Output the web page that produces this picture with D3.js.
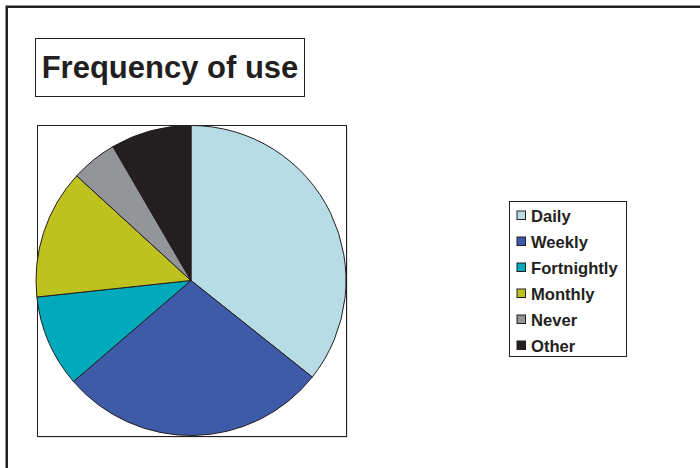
<!DOCTYPE html>
<html>
<head>
<meta charset="utf-8">
<script src="https://cdn.jsdelivr.net/npm/d3@7"></script>
<style>
html,body{margin:0;padding:0;background:#fff;}
svg{display:block;}
</style>
</head>
<body>
<svg id="chart" width="700" height="468"></svg>
<script>
const categories = ["Daily", "Weekly", "Fortnightly", "Monthly", "Never", "Other"];
const values = [35.7, 28.0, 9.6, 13.5, 4.8, 8.4];
const colors = ["#b7dce6", "#3e5ba9", "#00a9bb", "#bfc21e", "#939598", "#231f20"];
const titleText = "Frequency of use";

const svg = d3.select("#chart");
const ink = "#231f20";
const font = "'Liberation Sans', Arial, Helvetica, sans-serif";

// outer frame (only top and left visible)
svg.append("rect").attr("x", 6.75).attr("y", 6.75).attr("width", 760).attr("height", 560)
  .attr("fill", "none").attr("stroke", ink).attr("stroke-width", 2.5);

// title box
svg.append("rect").attr("x", 35.5).attr("y", 38.5).attr("width", 269).attr("height", 58)
  .attr("fill", "#fff").attr("stroke", ink).attr("stroke-width", 1);
svg.append("text").attr("x", 170).attr("y", 78).attr("text-anchor", "middle")
  .attr("font-family", font).attr("font-weight", "bold").attr("font-size", 31)
  .attr("fill", ink).text(titleText);

// plot area box with slight shadow
svg.append("rect").attr("x", 38.5).attr("y", 126.5).attr("width", 309).attr("height", 311)
  .attr("fill", "#c8c8c8");
svg.append("rect").attr("x", 37.5).attr("y", 125.5).attr("width", 309).attr("height", 311)
  .attr("fill", "#fff").attr("stroke", ink).attr("stroke-width", 1);

// pie
const cx = 191, cy = 280.5, r = 155;
const pie = d3.pie().sort(null).value(d => d.v);
const arc = d3.arc().innerRadius(0).outerRadius(r);
const data = categories.map((c, i) => ({c, v: values[i], col: colors[i]}));
const color = d3.scaleOrdinal().domain(categories).range(colors);
svg.append("g").attr("transform", `translate(${cx},${cy})`)
  .selectAll("path").data(pie(data)).join("path")
  .attr("d", arc).attr("fill", d => color(d.data.c))
  .attr("stroke", ink).attr("stroke-width", 1).attr("stroke-linejoin", "round");

// legend
const lg = svg.append("g");
lg.append("rect").attr("x", 509.5).attr("y", 201.5).attr("width", 117).attr("height", 155)
  .attr("fill", "#fff").attr("stroke", ink).attr("stroke-width", 1);
const ly = d3.scalePoint().domain(categories).range([215.5, 345.5]);
const items = lg.selectAll("g.item").data(categories).join("g").attr("class", "item")
  .attr("transform", d => `translate(0,${ly(d)})`);
items.append("rect").attr("x", 517).attr("y", -4.5).attr("width", 8.5).attr("height", 8.5)
  .attr("fill", d => color(d)).attr("stroke", ink).attr("stroke-width", 1);
items.append("text").attr("x", 531).attr("y", 6).attr("font-family", font)
  .attr("font-weight", "bold").attr("font-size", 16.6).attr("fill", ink).text(d => d);
</script>
</body>
</html>
